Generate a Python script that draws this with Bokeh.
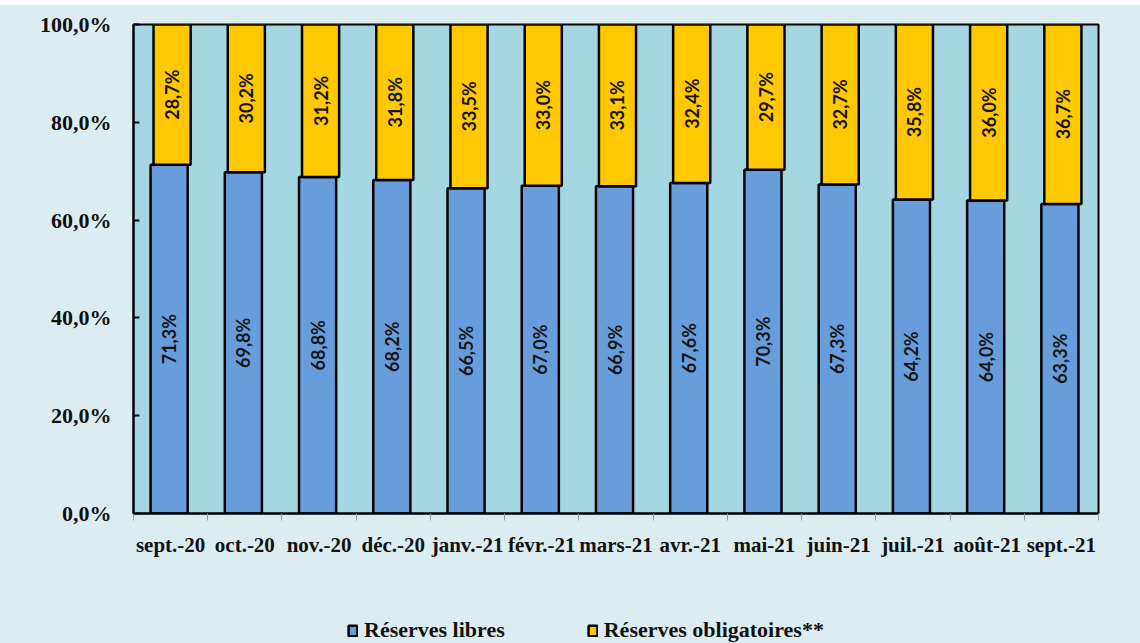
import math
from bokeh.plotting import figure
from bokeh.layouts import column
from bokeh.models import (ColumnDataSource, FixedTicker, CustomJSTickFormatter,
                          Legend, LegendItem, Range1d)
from bokeh.transform import dodge
from bokeh.core.properties import value
from bokeh.embed import file_html
from bokeh.resources import INLINE

# Monthly split of bank reserves (percent of total)
months = ["sept.-20", "oct.-20", "nov.-20", "déc.-20", "janv.-21", "févr.-21",
          "mars-21", "avr.-21", "mai-21", "juin-21", "juil.-21", "août-21", "sept.-21"]
libres = [71.3, 69.8, 68.8, 68.2, 66.5, 67.0, 66.9, 67.6, 70.3, 67.3, 64.2, 64.0, 63.3]
obligatoires = [28.7, 30.2, 31.2, 31.8, 33.5, 33.0, 33.1, 32.4, 29.7, 32.7, 35.8, 36.0, 36.7]
series_names = ["Réserves libres", "Réserves obligatoires**"]
y_ticks = [0, 20, 40, 60, 80, 100]

BLUE = "#689DDB"
YELLOW = "#FFC800"
PLOT_BG = "#A4D7E2"
PAGE_BG = "#DCEDF2"

n = len(months)
pos = [i + 0.5 for i in range(n)]
top_all = [a + b for a, b in zip(libres, obligatoires)]
src = ColumnDataSource(dict(
    x=pos,
    libres=libres,
    oblig=obligatoires,
    top=top_all,
    lib_mid=[a / 2 for a in libres],
    obl_mid=[a + b / 2 for a, b in zip(libres, obligatoires)],
    lib_lbl=[f"{v:.1f}%".replace(".", ",") for v in libres],
    obl_lbl=[f"{v:.1f}%".replace(".", ",") for v in obligatoires],
))

p = figure(width=1140, height=595,
           x_range=Range1d(0, n), y_range=Range1d(0, 100),
           output_backend="svg", toolbar_location=None,
           min_border_left=133, min_border_right=42,
           min_border_top=19, min_border_bottom=87)
p.background_fill_color = PLOT_BG
p.border_fill_color = PAGE_BG
p.outline_line_color = "black"
p.outline_line_width = 2
p.xgrid.visible = False
p.ygrid.visible = False

bar_lib = dict(fill_color=BLUE, line_color="black", line_width=2.5)
bar_obl = dict(fill_color=YELLOW, line_color="black", line_width=2.5)
p.vbar(x=dodge("x", -0.02), width=0.5, bottom=0, top="libres", source=src, **bar_lib)
p.vbar(x=dodge("x", 0.02), width=0.5, bottom="libres", top="top", source=src, **bar_obl)

label_kw = dict(angle=math.pi / 2, text_align="center", text_baseline="middle",
                text_font=value("Lato"), text_font_size="18px",
                text_font_style="bold", text_color="#151515")
p.text(x=dodge("x", -0.02), y="lib_mid", text="lib_lbl", source=src, **label_kw)
p.text(x=dodge("x", 0.02), y="obl_mid", text="obl_lbl", source=src, **label_kw)

# x axis: month names centred, tick marks on the category boundaries
xa = p.xaxis[0]
xa.ticker = FixedTicker(ticks=pos, minor_ticks=list(range(n + 1)))
xa.formatter = CustomJSTickFormatter(args=dict(labels=months),
                                     code="return labels[Math.round(tick - 0.5)];")
xa.major_tick_line_color = None
xa.minor_tick_line_color = "#9a9a9a"
xa.minor_tick_in = 0
xa.minor_tick_out = 7
xa.axis_line_color = "black"
xa.axis_line_width = 2
xa.major_label_text_font = "Liberation Serif"
xa.major_label_text_font_style = "bold"
xa.major_label_text_font_size = "21px"
xa.major_label_text_color = "#111111"
xa.major_label_standoff = 12

ya = p.yaxis[0]
ya.ticker = FixedTicker(ticks=y_ticks)
ya.formatter = CustomJSTickFormatter(code="return tick.toFixed(1).replace('.', ',') + '%';")
ya.major_tick_in = 6
ya.major_tick_out = 0
ya.major_tick_line_color = "black"
ya.major_tick_line_width = 2
ya.minor_tick_line_color = None
ya.axis_line_color = "black"
ya.axis_line_width = 2
ya.major_label_text_font = "Liberation Serif"
ya.major_label_text_font_style = "bold"
ya.major_label_text_font_size = "22px"
ya.major_label_text_color = "#111111"
ya.major_label_standoff = 22

# legend strip under the chart; its keys reuse the bar styles (hidden renderers)
leg = figure(width=1140, height=43, x_range=Range1d(0, n), y_range=Range1d(0, 100),
             output_backend="svg", toolbar_location=None,
             x_axis_type=None, y_axis_type=None,
             min_border_left=0, min_border_right=0, min_border_top=0, min_border_bottom=0)
leg.background_fill_color = PAGE_BG
leg.border_fill_color = PAGE_BG
leg.outline_line_color = None
leg.xgrid.visible = False
leg.ygrid.visible = False
k_lib = leg.vbar(x="x", width=0.5, bottom=0, top="libres", source=src, visible=False, **bar_lib)
k_obl = leg.vbar(x="x", width=0.5, bottom="libres", top="top", source=src, visible=False, **bar_obl)

legend = Legend(items=[LegendItem(label=series_names[0], renderers=[k_lib]),
                       LegendItem(label=series_names[1], renderers=[k_obl])],
                orientation="horizontal", location=(214, 0),
                glyph_width=11, glyph_height=13, label_standoff=6, spacing=82,
                padding=0, margin=0, inactive_fill_alpha=0,
                label_text_font="Liberation Serif", label_text_font_style="bold",
                label_text_font_size="22px", label_text_color="#111111",
                background_fill_alpha=0, border_line_color=None)
leg.add_layout(legend, "center")

# white band above the page, solid tint behind both figures
page = column(p, leg, spacing=0,
              styles={"margin-top": "5px", "background-color": PAGE_BG})
open("out.html", "w").write(file_html(page, INLINE))
